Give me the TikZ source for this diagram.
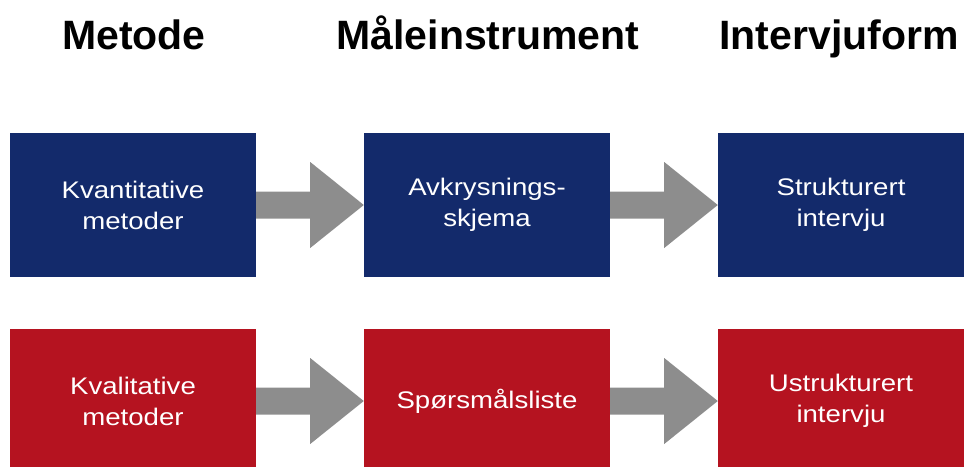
\documentclass[tikz,border=0pt]{standalone}
\usepackage{fontspec}
\setmainfont{Liberation Sans}
\newfontfamily\boxfont[FakeStretch=1.15]{Liberation Sans}
\usetikzlibrary{calc}

\definecolor{navy}{HTML}{132A6B}
\definecolor{crimson}{HTML}{B51320}
\definecolor{arrowgray}{HTML}{8D8D8D}

\tikzset{
  header/.style={font=\fontsize{41}{49}\selectfont\bfseries, text=black, anchor=base},
  stage/.style={minimum width=246pt, minimum height=144pt, inner sep=0pt,
    text=white, align=center, font=\boxfont\fontsize{24}{31}\selectfont},
  bluestage/.style={stage, fill=navy},
  redstage/.style={stage, fill=crimson},
}

% block arrow from the right side of one box to the left side of the next
\newcommand\flowarrow[2]{%
  \fill[arrowgray]
    ($(#1.east)+(0,-13.5)$) -- ($(#1.east)+(54,-13.5)$) -- ($(#1.east)+(54,-43)$)
    -- (#2.west)
    -- ($(#1.east)+(54,43)$) -- ($(#1.east)+(54,13.5)$) -- ($(#1.east)+(0,13.5)$) -- cycle;}

\begin{document}
\begin{tikzpicture}[x=1pt,y=-1pt]
  \useasboundingbox (0,0) rectangle (964,466);

  \node[header] (h1) at (134,49) {Metode};
  \node[header] (h2) at (488,49) {Måleinstrument};
  \node[header] (h3) at (839,49) {Intervjuform};

  \node[bluestage] (q1) at (133,205) {Kvantitative\\metoder};
  \node[bluestage] (q2) at (487,205) {Avkrysnings-\\skjema};
  \node[bluestage] (q3) at (841,205) {Strukturert\\intervju};

  \node[redstage] (k1) at (133,401) {Kvalitative\\metoder};
  \node[redstage] (k2) at (487,401) {Spørsmålsliste};
  \node[redstage] (k3) at (841,401) {Ustrukturert\\intervju};

  \flowarrow{q1}{q2}
  \flowarrow{q2}{q3}
  \flowarrow{k1}{k2}
  \flowarrow{k2}{k3}
\end{tikzpicture}
\end{document}
